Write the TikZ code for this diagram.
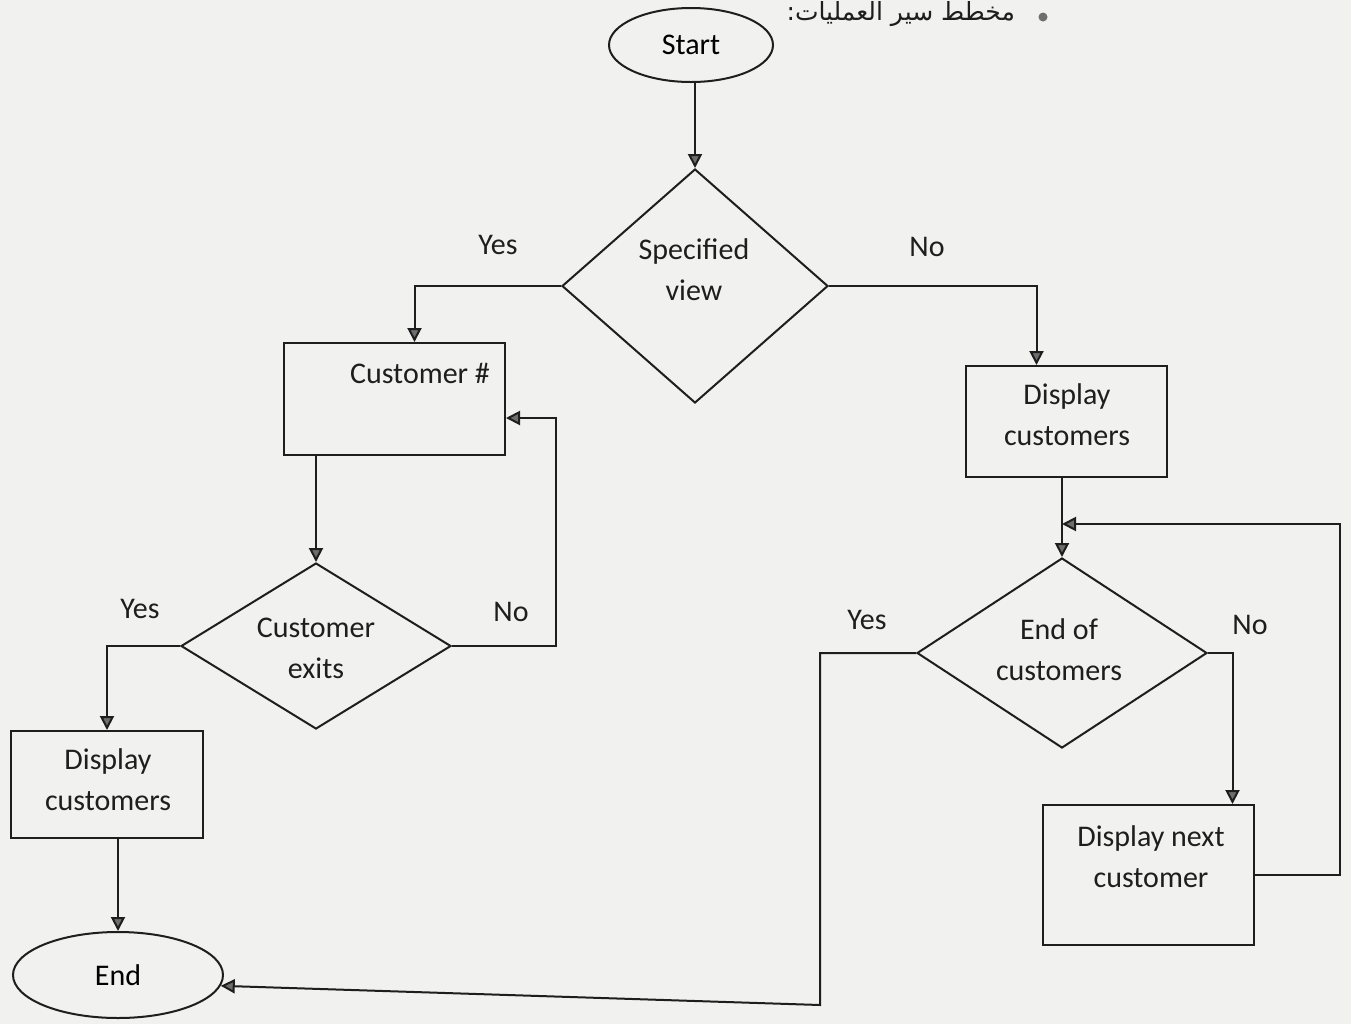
\documentclass[tikz,border=0pt]{standalone}
\usepackage{fontspec}
\setmainfont{Carlito}
\newfontfamily\arabicfont[Script=Arabic]{DejaVu Sans}
\TeXXeTstate=1
\usetikzlibrary{shapes.geometric,arrows.meta,calc}
\definecolor{paper}{RGB}{241,241,239}
\definecolor{ink}{RGB}{30,30,30}
\definecolor{tipfill}{RGB}{110,110,110}
\begin{document}
\begin{tikzpicture}[x=0.5pt,y=-0.5pt,
  font=\fontsize{15pt}{20.5pt}\selectfont,
  line width=1pt,
  box/.style={draw=ink,rectangle,inner sep=0pt},
  oval/.style={draw=ink,ellipse,inner sep=0pt},
  decision/.style={draw=ink,diamond,inner sep=0pt},
  txt/.style={inner sep=0pt,text=ink,align=center},
  arr/.style={draw=ink,-{Triangle[length=7pt,width=7pt,fill=tipfill]}},
]
\fill[paper] (0,0) rectangle (1351,1024);
\useasboundingbox (0,0) rectangle (1351,1024);

% title line
\node[txt,anchor=east] (title) at (1016,14) {\arabicfont\fontsize{12.5pt}{15pt}\selectfont\beginR مخطط سير العمليات:\endR};
\node[circle,fill=tipfill,minimum size=4.5pt,inner sep=0pt] (bullet) at (1043,17) {};

% shapes
\node[oval,minimum width=82pt,minimum height=37pt] (start) at (691,45) {Start};
\node[decision,minimum width=133pt,minimum height=117pt] (d1) at (695,286) {};
\node[box,minimum width=110.5pt,minimum height=56pt] (c1) at (394.5,399) {};
\node[box,minimum width=100.5pt,minimum height=55.5pt] (dc) at (1066.5,421.5) {};
\node[decision,minimum width=145pt,minimum height=95pt] (d2) at (1062,653) {};
\node[box,minimum width=105.5pt,minimum height=70pt] (dn) at (1148.5,875) {};
\node[decision,minimum width=135pt,minimum height=83pt] (d3) at (316,646) {};
\node[box,minimum width=96pt,minimum height=53.5pt] (dl) at (107,784.5) {};
\node[oval,minimum width=105pt,minimum height=43pt] (end) at (118,975) {End};

% texts inside the shapes
\node[txt] (d1t) at (694,270) {Specified\\view};
\node[txt] (c1t) at (420,373) {Customer \#};
\node[txt] (dct) at (1067,415) {Display\\customers};
\node[txt] (d2t) at (1059,650) {End of\\customers};
\node[txt] (dnt) at (1151,857) {Display next\\customer};
\node[txt] (d3t) at (316,648) {Customer\\exits};
\node[txt] (dlt) at (108,780) {Display\\customers};

% branch labels
\node[txt] (y1) at (498,245) {Yes};
\node[txt] (n1) at (927,247) {No};
\node[txt] (y2) at (867,620) {Yes};
\node[txt] (n2) at (1250,625) {No};
\node[txt] (y3) at (140,609) {Yes};
\node[txt] (n3) at (511,612) {No};

% bend points
\coordinate (loopTop) at (1340,524);
\coordinate (join) at (d2.north |- loopTop);
\coordinate (yesDown) at (820,1005);
\coordinate (noBack) at (556,418);

% connectors
\draw[arr] (d1.north |- start.south) -- (d1.north);
\draw[arr] (d1.west) -| ([xshift=10pt]c1.north);
\draw[arr] (d1.east) -| ([xshift=-15pt]dc.north);
\draw[arr] (d2.north |- dc.south) -- (d2.north);
\draw[arr] (dn.east) -| (loopTop) -- (join);
\draw[arr] (d2.east) -| ([xshift=42pt]dn.north);
\draw[arr] (d2.west) -| (yesDown) -- (end.-6);
\draw[arr] (d3.north |- c1.south) -- (d3.north);
\draw[arr] (d3.east) -| (noBack) -- (c1.east |- noBack);
\draw[arr] (d3.west) -| (dl.north);
\draw[arr] (end.north |- dl.south) -- (end.north);
\end{tikzpicture}
\end{document}
